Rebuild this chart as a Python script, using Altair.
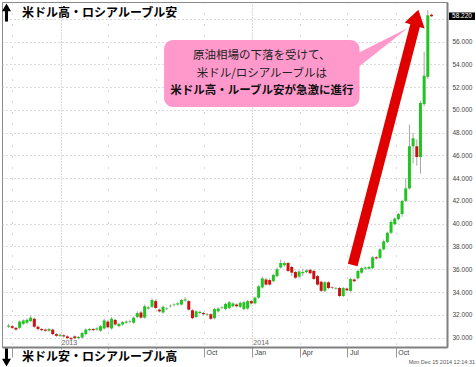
import altair as alt
import pandas as pd

# ---------------- data ----------------
first_week = "2012-09-24"
opens = [30.95, 31.00, 30.85, 30.85, 31.20, 31.30, 31.45, 31.65, 30.95, 30.75,
         30.70, 30.60, 30.70, 30.30, 30.15, 30.20, 30.10, 29.95, 30.10, 29.95,
         30.00, 30.30, 30.65, 30.75, 30.70, 30.60, 30.80, 31.40, 30.80, 31.55,
         31.00, 31.15, 31.30, 31.40, 31.30, 31.80, 32.20, 31.75, 32.55, 32.70,
         33.20, 32.45, 32.20, 32.50, 32.75, 32.85, 32.90, 32.90, 33.25, 33.20,
         32.40, 31.80, 32.15, 32.15, 32.00, 32.05, 31.70, 32.30, 32.60, 32.50,
         32.60, 32.75, 32.90, 32.70, 32.50, 32.55, 33.20, 33.00, 33.50, 34.40,
         35.10, 35.05, 34.95, 35.40, 36.15, 36.35, 36.55, 36.20, 35.75, 35.35,
         35.65, 35.75, 35.95, 35.85, 35.40, 34.90, 34.10, 34.85, 34.40, 34.30,
         34.35, 33.65, 34.30, 34.10, 35.10, 35.20, 35.70, 36.05, 36.05, 36.10,
         37.05, 37.00, 37.75, 38.40, 39.20, 39.95, 40.40, 40.85, 42.00, 43.10,
         46.80, 46.80, 45.85, 50.50, 52.90, 58.35]
closes = [31.05, 30.85, 30.70, 31.40, 31.50, 31.55, 31.75, 30.95, 30.75, 30.65,
          30.60, 30.75, 30.30, 30.15, 30.25, 30.10, 29.95, 29.85, 29.95, 30.05,
          30.40, 30.70, 30.75, 30.65, 30.80, 31.00, 31.50, 30.90, 31.65, 31.15,
          31.20, 31.35, 31.40, 31.45, 31.75, 32.15, 31.75, 32.75, 32.65, 33.30,
          32.60, 32.30, 32.70, 32.55, 32.80, 32.90, 33.00, 33.30, 33.35, 32.45,
          31.70, 32.30, 32.25, 32.05, 32.05, 31.65, 32.50, 32.55, 32.65, 32.95,
          33.10, 33.00, 32.75, 33.05, 33.10, 33.20, 33.00, 33.50, 34.50, 35.20,
          34.65, 34.65, 35.50, 36.00, 36.55, 36.55, 35.85, 35.70, 35.25, 35.80,
          35.75, 35.90, 35.65, 35.15, 34.65, 34.10, 34.85, 34.35, 34.35, 34.35,
          33.65, 34.35, 34.15, 35.15, 34.95, 35.85, 36.10, 36.15, 36.20, 37.05,
          36.95, 37.75, 38.45, 39.20, 40.15, 40.45, 40.85, 42.00, 43.10, 46.80,
          47.50, 45.85, 50.60, 53.00, 58.30, 58.22]
highs = [31.20, 31.10, 30.95, 31.50, 31.60, 31.70, 31.95, 31.75, 31.05, 30.85,
         30.80, 30.85, 30.80, 30.40, 30.35, 30.30, 30.20, 30.05, 30.20, 30.15,
         30.50, 30.80, 30.85, 30.85, 30.90, 31.10, 31.65, 31.55, 31.80, 31.65,
         31.30, 31.45, 31.50, 31.55, 31.85, 32.30, 32.35, 32.90, 32.80, 33.45,
         33.35, 32.55, 32.80, 32.65, 32.90, 33.00, 33.10, 33.40, 33.55, 33.30,
         32.50, 32.40, 32.35, 32.25, 32.15, 32.15, 32.60, 32.65, 32.75, 33.05,
         33.20, 33.10, 33.00, 33.15, 33.20, 33.30, 33.30, 33.60, 34.60, 35.35,
         35.25, 35.20, 35.60, 36.15, 36.85, 36.70, 36.65, 36.30, 35.85, 35.90,
         36.05, 36.00, 36.05, 35.95, 35.50, 35.00, 34.95, 34.95, 34.50, 34.45,
         34.45, 34.45, 34.40, 35.25, 35.20, 35.95, 36.20, 36.25, 36.30, 37.15,
         37.15, 37.85, 38.60, 39.30, 40.30, 40.55, 40.95, 42.10, 44.00, 48.70,
         48.00, 47.40, 50.80, 55.10, 58.75, 58.45]
lows = [30.85, 30.75, 30.60, 30.75, 31.10, 31.20, 31.35, 30.85, 30.60, 30.55,
        30.50, 30.50, 30.20, 30.05, 30.05, 30.00, 29.85, 29.75, 29.85, 29.85,
        29.90, 30.20, 30.55, 30.55, 30.60, 30.50, 30.70, 30.80, 30.70, 31.05,
        30.90, 31.05, 31.20, 31.30, 31.20, 31.70, 31.65, 31.65, 32.45, 32.60,
        32.50, 32.20, 32.10, 32.40, 32.65, 32.75, 32.80, 32.80, 33.15, 32.35,
        31.60, 31.70, 32.05, 31.95, 31.90, 31.55, 31.60, 32.20, 32.50, 32.40,
        32.50, 32.65, 32.65, 32.60, 32.40, 32.45, 32.90, 32.90, 33.40, 34.30,
        34.55, 34.55, 34.85, 35.30, 36.05, 36.25, 35.75, 35.40, 35.15, 35.25,
        35.40, 35.65, 35.55, 35.05, 34.55, 34.00, 34.00, 34.25, 34.25, 34.20,
        33.55, 33.55, 34.05, 34.00, 34.85, 35.10, 35.60, 35.95, 35.95, 36.00,
        36.85, 36.90, 37.65, 38.30, 39.10, 39.85, 40.30, 40.60, 41.90, 43.00,
        45.30, 45.10, 44.40, 50.30, 52.70, 58.15]

quarter_ticks = [(2012, 10), (2013, 1), (2013, 4), (2013, 7), (2013, 10),
                 (2014, 1), (2014, 4), (2014, 7), (2014, 10)]
y_ticks = list(range(30, 60, 2))
year_labels = ["2013", "2014"]
year_dates = ["2013-01-01", "2014-01-01"]
year_level = [29.52, 29.52]

last_price = [58.22]
last_label = ["58.220"]

top_label = "米ドル高・ロシアルーブル安"
bottom_label = "米ドル安・ロシアルーブル高"
timestamp_label = "Mon Dec 15 2014 12:14:31"

callout_lines = ["原油相場の下落を受けて、", "米ドル/ロシアルーブルは", "米ドル高・ルーブル安が急激に進行"]
callout_line_date = ["2014-01-19", "2014-01-19", "2014-01-19"]
callout_line_level = [54.72, 53.14, 51.65]
callout_box_dates = ["2013-07-17", "2014-07-24"]
callout_box_levels = [56.13, 50.25]
tail_dates = ["2014-07-10", "2014-10-24"]
tail_top = [54.72, 57.18]
tail_bottom = [53.32, 57.18]

arrow_dates = ["2014-07-11", "2014-11-08"]
arrow_levels = [36.37, 57.62]
head_dates = ["2014-10-18", "2014-11-13", "2014-11-25"]
head_top = [57.66, 58.80, 57.15]
head_bottom = [57.66, 57.29, 57.15]

# ---------------- tables ----------------
dates = pd.date_range(first_week, periods=len(opens), freq="7D").strftime("%Y-%m-%d")
candles = pd.DataFrame({"date": dates, "open": opens, "close": closes,
                        "high": highs, "low": lows})
candles["dir"] = ["up" if c >= o else "down" for o, c in zip(opens, closes)]

years = pd.DataFrame({"date": year_dates, "v": year_level, "t": year_labels})
lines_df = pd.DataFrame({"date": callout_line_date, "v": callout_line_level, "t": callout_lines})
box_df = pd.DataFrame({"x1": [callout_box_dates[0]], "x2": [callout_box_dates[1]],
                       "y1": [callout_box_levels[0]], "y2": [callout_box_levels[1]]})
tail_df = pd.DataFrame({"date": tail_dates, "v": tail_top, "v2": tail_bottom})
shaft_df = pd.DataFrame({"x1": [arrow_dates[0]], "x2": [arrow_dates[1]],
                         "y1": [arrow_levels[0]], "y2": [arrow_levels[1]]})
head_df = pd.DataFrame({"date": head_dates, "v": head_top, "v2": head_bottom})
last_df = pd.DataFrame({"p": last_price, "t": last_label})

# ---------------- scales / axes ----------------
def dt(y, m, d=1):
    return alt.DateTime(year=y, month=m, date=d, utc=True)

xscale = alt.Scale(type="utc", domain=[dt(2012, 9, 21), dt(2014, 12, 28)])
yscale = alt.Scale(domain=[29.17, 59.47], nice=False, zero=False)

# labels of the first quarters sit behind the bottom caption in the reference
xaxis = alt.Axis(values=[dt(y, m) for y, m in quarter_ticks],
                 labelExpr="datum.value < utc(2013, 8, 1) ? '' : utcFormat(datum.value, '%b')",
                 labelAlign="left", labelBaseline="top", labelOffset=2, labelPadding=-9,
                 labelFlush=False, labelOverlap=False,
                 tickSize=10, tickColor="#9a9a9a",
                 domainColor="#808080", domainWidth=2,
                 grid=True, gridColor="#b5b5b5",
                 gridDash={"condition": {"test": "utcmonth(datum.value) == 0", "value": [1, 2]},
                           "value": [1, 10]},
                 labelFontSize=7, labelColor="#444", labelFont="Liberation Sans", title=None)
yaxis = alt.Axis(orient="right", values=y_ticks,
                 labelExpr="datum.value > 57 ? '' : format(datum.value, '.3f')",
                 ticks=False, domainColor="#808080", domainWidth=2,
                 grid=True, gridColor="#b5b5b5", gridDash=[1, 3],
                 labelFontSize=6.5, labelColor="#444", labelFont="Liberation Sans",
                 labelPadding=5, title=None)

X = lambda f: alt.X(f, scale=xscale, axis=xaxis)
Y = lambda f: alt.Y(f, scale=yscale, axis=yaxis)

# ---------------- layers ----------------
wicks = alt.Chart(candles).mark_rule(color="#a6a6a6", strokeWidth=1).encode(
    x=X("date:T"), y=Y("low:Q"), y2="high:Q")
bodies = alt.Chart(candles).mark_bar(size=3).encode(
    x=X("date:T"), y=Y("open:Q"), y2="close:Q",
    color=alt.Color("dir:N", scale=alt.Scale(domain=["up", "down"], range=["#22c422", "#cc1111"]),
                    legend=None))
year_text = alt.Chart(years).mark_text(align="left", baseline="middle", dx=1, fontSize=7,
                                       color="#666", font="Liberation Sans").encode(
    x=X("date:T"), y=Y("v:Q"), text="t:N")

box = alt.Chart(box_df).mark_rect(color="#ff99cc", cornerRadius=9).encode(
    x=X("x1:T"), x2="x2:T", y=Y("y1:Q"), y2="y2:Q")
tail = alt.Chart(tail_df).mark_area(color="#ff99cc", opacity=1).encode(
    x=X("date:T"), y=Y("v:Q"), y2="v2:Q")
lines_normal = alt.Chart(lines_df).transform_filter("datum.t != '%s'" % callout_lines[2]).mark_text(
    align="center", baseline="middle", fontSize=11.5, color="#222",
    font="Noto Sans CJK JP").encode(x=X("date:T"), y=Y("v:Q"), text="t:N")
lines_bold = alt.Chart(lines_df).transform_filter("datum.t == '%s'" % callout_lines[2]).mark_text(
    align="center", baseline="middle", fontSize=11.5, color="#111", fontWeight="bold",
    font="Noto Sans CJK JP").encode(x=X("date:T"), y=Y("v:Q"), text="t:N")

shaft = alt.Chart(shaft_df).mark_rule(color="#e00000", strokeWidth=10, strokeCap="butt").encode(
    x=X("x1:T"), x2="x2:T", y=Y("y1:Q"), y2="y2:Q")
head = alt.Chart(head_df).mark_area(color="#e00000", opacity=1).encode(
    x=X("date:T"), y=Y("v:Q"), y2="v2:Q")

last_box = alt.Chart(last_df).transform_calculate(
    top="datum.p + 0.33", bot="datum.p - 0.33").mark_rect(color="#000000").encode(
    x=alt.value(447), x2=alt.value(473), y=alt.Y("top:Q", scale=yscale, axis=yaxis), y2="bot:Q")
last_text = alt.Chart(last_df).mark_text(align="center", baseline="middle", fontSize=6.5,
                                         color="white", font="Liberation Sans").encode(
    x=alt.value(460), y=Y("p:Q"), text="t:N")

UP = "M0,-1L0.5,-0.15L0.17,-0.15L0.17,1L-0.17,1L-0.17,-0.15L-0.5,-0.15Z"
DOWN = "M0,1L0.5,0.15L0.17,0.15L0.17,-1L-0.17,-1L-0.17,0.15L-0.5,0.15Z"
one = pd.DataFrame({"k": [0]})
up_arrow = alt.Chart(one).mark_point(shape=UP, filled=True, color="black", opacity=1, size=324).encode(
    x=alt.value(4.5), y=alt.value(10.5))
down_arrow = alt.Chart(one).mark_point(shape=DOWN, filled=True, color="black", opacity=1, size=324).encode(
    x=alt.value(4.5), y=alt.value(355.5))

bottom_bg = alt.Chart(one).mark_rect(color="white").encode(
    x=alt.value(15), x2=alt.value(180), y=alt.value(347.5), y2=alt.value(365))
top_text = alt.Chart(pd.DataFrame({"t": [top_label]})).mark_text(
    align="left", baseline="middle", fontSize=12, fontWeight="bold", color="black",
    font="Noto Sans CJK JP").encode(x=alt.value(20), y=alt.value(11), text="t:N")
bottom_text = alt.Chart(pd.DataFrame({"t": [bottom_label]})).mark_text(
    align="left", baseline="middle", fontSize=12, fontWeight="bold", color="black",
    font="Noto Sans CJK JP").encode(x=alt.value(20), y=alt.value(355), text="t:N")
stamp = alt.Chart(pd.DataFrame({"t": [timestamp_label]})).mark_text(
    align="right", baseline="middle", fontSize=5.5, color="#555",
    font="Liberation Sans").encode(x=alt.value(473), y=alt.value(360), text="t:N")

chart = alt.layer(
    wicks, bodies, year_text, tail, box, lines_normal, lines_bold, shaft, head,
    last_box, last_text, up_arrow, bottom_bg, down_arrow, top_text, bottom_text, stamp
).properties(
    width=445, height=345,
    autosize=alt.AutoSizeParams(type="none"),
    padding={"left": 2, "top": 2, "right": 29, "bottom": 20},
    background="white",
).configure_view(stroke="#8a8a8a", strokeWidth=1)

chart.save("out.html", embed_options={"renderer": "svg", "actions": False})
